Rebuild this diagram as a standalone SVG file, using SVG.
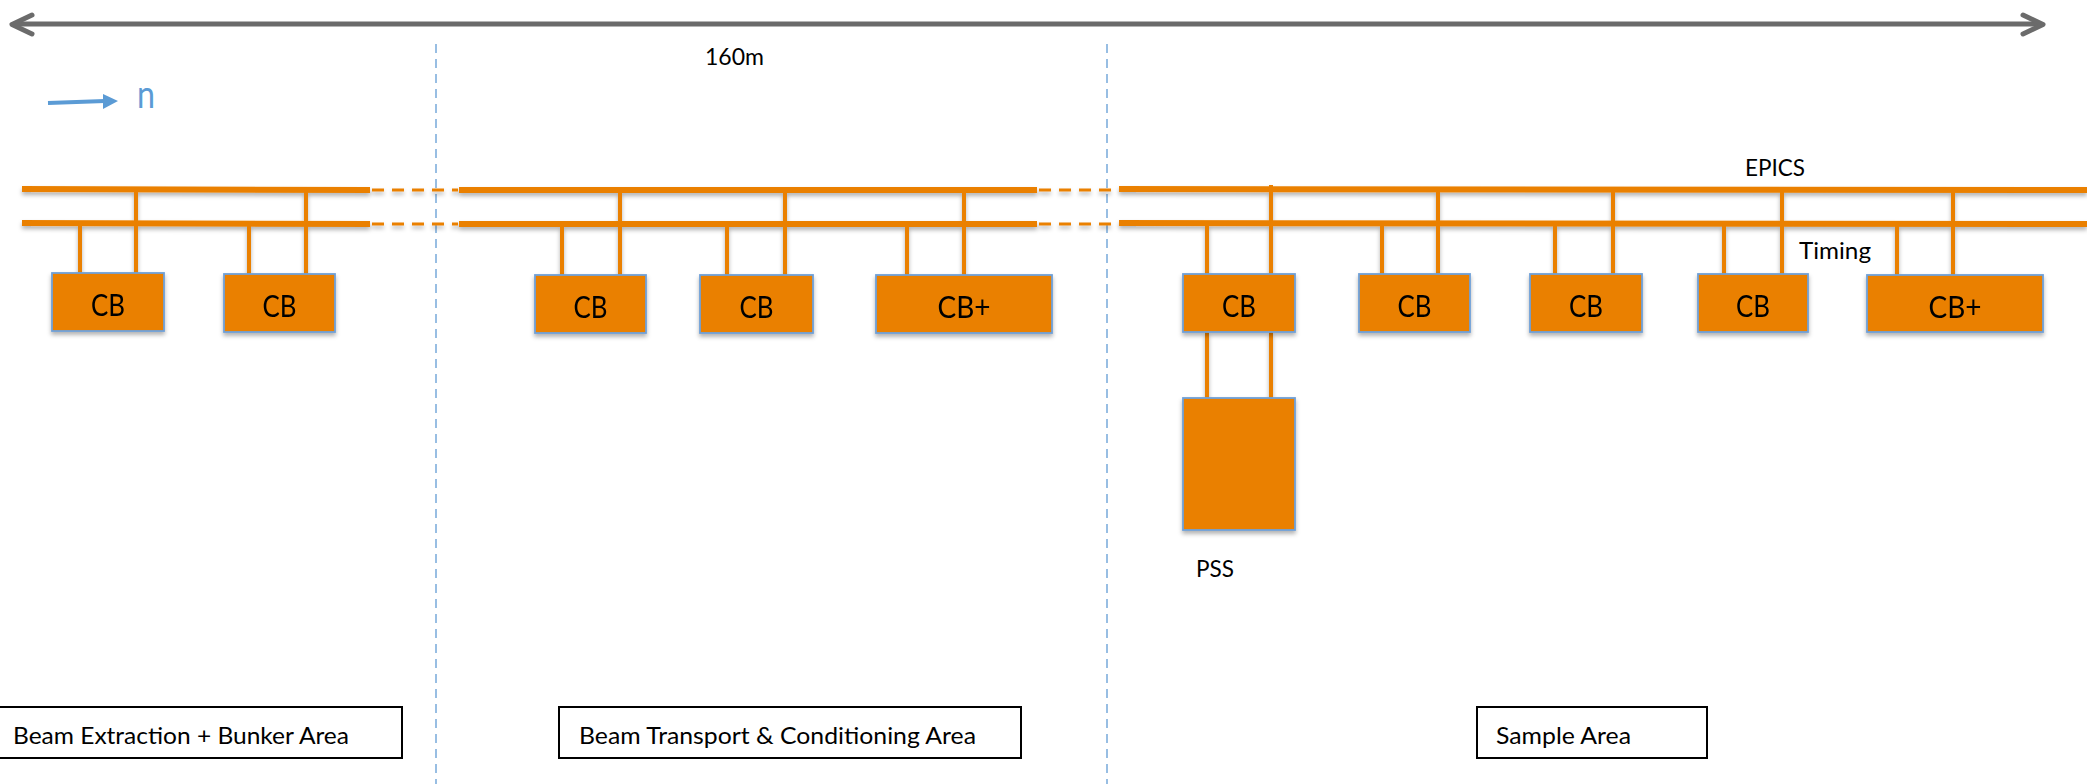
<svg xmlns="http://www.w3.org/2000/svg" width="2087" height="784" viewBox="0 0 2087 784">
<style>
.bus{stroke:#EA8000;stroke-width:6;fill:none}
.ext{stroke:#EA8000;stroke-width:3;stroke-dasharray:12 8;fill:none}
.drop{stroke:#EA8000;stroke-width:4;fill:none}
.box{fill:#EA8000;stroke:#6FA0D8;stroke-width:1.8}
.lbl{font-family:Lato,"Open Sans",sans-serif;font-size:30px;fill:#000;text-anchor:middle}
.txt{font-family:Lato,"Open Sans",sans-serif;font-size:24px;fill:#000}
.area{fill:#fff;stroke:#000;stroke-width:2}
.sep{stroke:#7FAEDD;stroke-width:1.6;stroke-dasharray:9 6;fill:none}
</style>
<defs>
<filter id="sh" x="-5%" y="-20%" width="110%" height="160%">
<feDropShadow dx="0" dy="3" stdDeviation="2" flood-color="#000" flood-opacity="0.3"/>
</filter>
</defs>
<rect width="2087" height="784" fill="#fff"/>

<g id="dimension">
<line x1="14" y1="24" x2="2041" y2="24" stroke="#6b6b6b" stroke-width="5"/>
<polyline points="32,15 12,24.5 32,34" fill="none" stroke="#6b6b6b" stroke-width="5" stroke-linecap="round" stroke-linejoin="round"/>
<polyline points="2023,15 2043,24.5 2023,34" fill="none" stroke="#6b6b6b" stroke-width="5" stroke-linecap="round" stroke-linejoin="round"/>
<text class="txt" x="705" y="65" textLength="59" lengthAdjust="spacingAndGlyphs">160m</text>
</g>

<g id="direction">
<line x1="48" y1="103" x2="105" y2="101" stroke="#5B9BD5" stroke-width="4"/>
<polygon points="103,94 118,101 103,109" fill="#5B9BD5"/>
<text x="137" y="108" font-family="Lato,'Open Sans',sans-serif" font-size="38" fill="#5B9BD5" textLength="18" lengthAdjust="spacingAndGlyphs">n</text>
</g>

<g id="separators">
<line class="sep" x1="436" y1="44" x2="436" y2="784"/>
<line class="sep" x1="1107" y1="44" x2="1107" y2="784"/>
</g>

<g id="connectors" filter="url(#sh)">
<line class="bus" x1="22" y1="189" x2="370" y2="190"/>
<line class="bus" x1="22" y1="223" x2="370" y2="224"/>
<line class="ext" x1="372" y1="190" x2="458" y2="190"/>
<line class="ext" x1="372" y1="224" x2="458" y2="224"/>
<line class="bus" x1="459" y1="190" x2="1037" y2="190"/>
<line class="bus" x1="459" y1="224" x2="1037" y2="224"/>
<line class="ext" x1="1039" y1="190" x2="1118" y2="190"/>
<line class="ext" x1="1039" y1="224" x2="1118" y2="224"/>
<line class="bus" x1="1119" y1="189" x2="2087" y2="190"/>
<line class="bus" x1="1119" y1="223" x2="2087" y2="224"/>
<line class="drop" x1="80" y1="224" x2="80" y2="273"/>
<line class="drop" x1="249" y1="224" x2="249" y2="274"/>
<line class="drop" x1="562" y1="225" x2="562" y2="275"/>
<line class="drop" x1="727" y1="225" x2="727" y2="275"/>
<line class="drop" x1="907" y1="225" x2="907" y2="275"/>
<line class="drop" x1="1207" y1="224" x2="1207" y2="274"/>
<line class="drop" x1="1382" y1="224" x2="1382" y2="274"/>
<line class="drop" x1="1555" y1="224" x2="1555" y2="274"/>
<line class="drop" x1="1724" y1="224" x2="1724" y2="274"/>
<line class="drop" x1="1897" y1="224" x2="1897" y2="275"/>
<line class="drop" x1="136" y1="190" x2="136" y2="273"/>
<line class="drop" x1="306" y1="190" x2="306" y2="274"/>
<line class="drop" x1="620" y1="191" x2="620" y2="275"/>
<line class="drop" x1="785" y1="191" x2="785" y2="275"/>
<line class="drop" x1="964" y1="191" x2="964" y2="275"/>
<line class="drop" x1="1271" y1="185" x2="1271" y2="274"/>
<line class="drop" x1="1438" y1="190" x2="1438" y2="274"/>
<line class="drop" x1="1613" y1="190" x2="1613" y2="274"/>
<line class="drop" x1="1782" y1="190" x2="1782" y2="274"/>
<line class="drop" x1="1953" y1="190" x2="1953" y2="275"/>
<line class="drop" x1="1207" y1="332" x2="1207" y2="398"/>
<line class="drop" x1="1271" y1="332" x2="1271" y2="398"/>
</g>

<g id="bus-labels">
<text class="txt" x="1745" y="176" textLength="60" lengthAdjust="spacingAndGlyphs">EPICS</text>
<text class="txt" x="1799" y="259" textLength="72" lengthAdjust="spacingAndGlyphs">Timing</text>
</g>

<g id="cb1" filter="url(#sh)"><rect class="box" x="52" y="273" width="112" height="58"/><text class="lbl" x="108" y="316" textLength="34" lengthAdjust="spacingAndGlyphs">CB</text></g>
<g id="cb2" filter="url(#sh)"><rect class="box" x="224" y="274" width="111" height="58"/><text class="lbl" x="279.5" y="317" textLength="34" lengthAdjust="spacingAndGlyphs">CB</text></g>
<g id="cb3" filter="url(#sh)"><rect class="box" x="535" y="275" width="111" height="58"/><text class="lbl" x="590.5" y="318" textLength="34" lengthAdjust="spacingAndGlyphs">CB</text></g>
<g id="cb4" filter="url(#sh)"><rect class="box" x="700" y="275" width="113" height="58"/><text class="lbl" x="756.5" y="318" textLength="34" lengthAdjust="spacingAndGlyphs">CB</text></g>
<g id="cbplus1" filter="url(#sh)"><rect class="box" x="876" y="275" width="176" height="58"/><text class="lbl" x="964" y="318" textLength="53" lengthAdjust="spacingAndGlyphs">CB+</text></g>
<g id="cb5" filter="url(#sh)"><rect class="box" x="1183" y="274" width="112" height="58"/><text class="lbl" x="1239" y="317" textLength="34" lengthAdjust="spacingAndGlyphs">CB</text></g>
<g id="cb6" filter="url(#sh)"><rect class="box" x="1359" y="274" width="111" height="58"/><text class="lbl" x="1414.5" y="317" textLength="34" lengthAdjust="spacingAndGlyphs">CB</text></g>
<g id="cb7" filter="url(#sh)"><rect class="box" x="1530" y="274" width="112" height="58"/><text class="lbl" x="1586" y="317" textLength="34" lengthAdjust="spacingAndGlyphs">CB</text></g>
<g id="cb8" filter="url(#sh)"><rect class="box" x="1698" y="274" width="110" height="58"/><text class="lbl" x="1753" y="317" textLength="34" lengthAdjust="spacingAndGlyphs">CB</text></g>
<g id="cbplus2" filter="url(#sh)"><rect class="box" x="1867" y="275" width="176" height="57"/><text class="lbl" x="1955" y="318" textLength="53" lengthAdjust="spacingAndGlyphs">CB+</text></g>
<g id="pss"><rect class="box" x="1183" y="398" width="112" height="132" filter="url(#sh)"/><text class="txt" x="1196" y="577" textLength="38" lengthAdjust="spacingAndGlyphs">PSS</text></g>

<g id="area1"><rect class="area" x="-2" y="707" width="404" height="51"/><text class="txt" x="13" y="744" textLength="336" lengthAdjust="spacingAndGlyphs">Beam Extraction + Bunker Area</text></g>
<g id="area2"><rect class="area" x="559" y="707" width="462" height="51"/><text class="txt" x="579" y="744" textLength="397" lengthAdjust="spacingAndGlyphs">Beam Transport &amp; Conditioning Area</text></g>
<g id="area3"><rect class="area" x="1477" y="707" width="230" height="51"/><text class="txt" x="1496" y="744" textLength="135" lengthAdjust="spacingAndGlyphs">Sample Area</text></g>
</svg>
